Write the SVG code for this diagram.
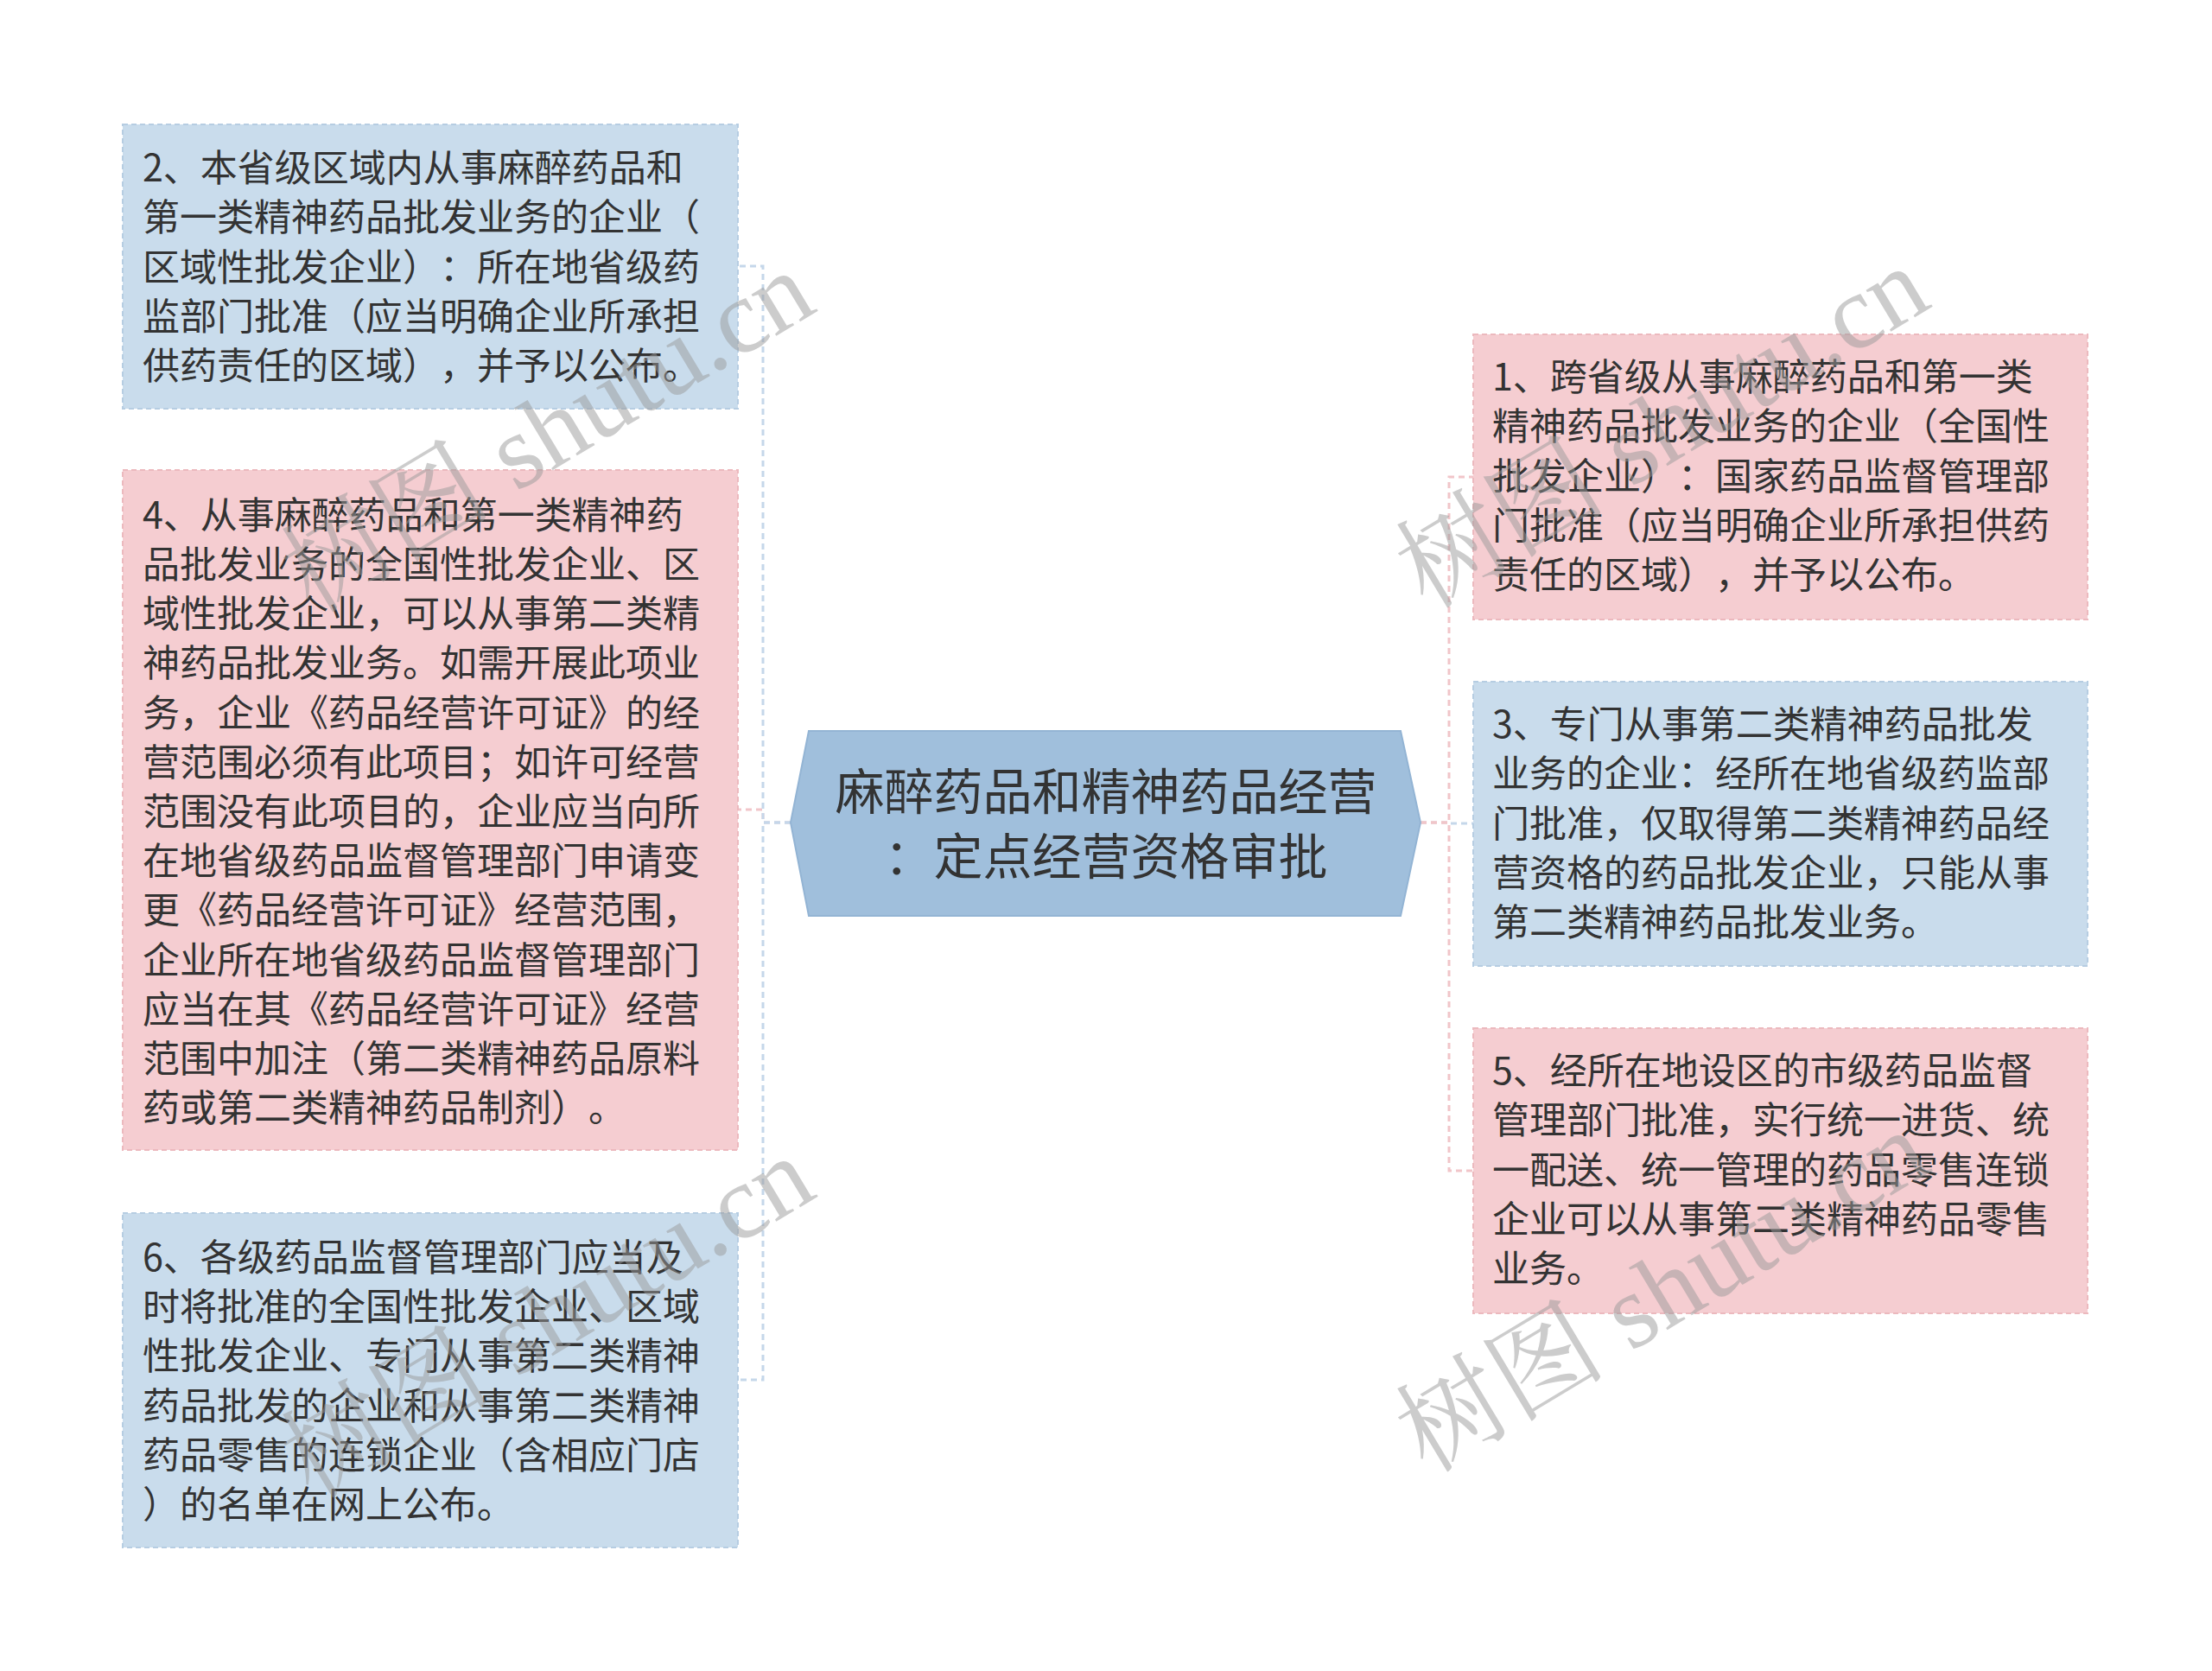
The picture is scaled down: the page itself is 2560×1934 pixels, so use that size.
<svg xmlns="http://www.w3.org/2000/svg" width="2560" height="1934" viewBox="0 0 2560 1934">
<style>
.bg{fill:#ffffff}
.blue{fill:#c9dcec;stroke:#b6cde2;stroke-width:2;stroke-dasharray:6 4}
.pink{fill:#f5cdd1;stroke:#ecb9be;stroke-width:2;stroke-dasharray:6 4}
.center{fill:#a0bfdc;stroke:#93b4d4;stroke-width:2}
text{text-spacing-trim:space-all;font-kerning:none}
.t{font-family:"Noto Sans CJK SC","Noto Sans",sans-serif;font-size:43px;fill:#333333}
.ct{font-family:"Noto Sans CJK SC","Noto Sans",sans-serif;font-size:57px;fill:#333333;text-anchor:middle}
.cb{fill:none;stroke:#c5d7ea;stroke-width:3;stroke-dasharray:7 5}
.cp{fill:none;stroke:#f1c5c9;stroke-width:3;stroke-dasharray:7 5}
.wm{font-family:"Liberation Serif","Noto Serif CJK SC","Noto Sans CJK SC",serif;font-size:122px;fill:#999999;fill-opacity:0.5}
</style>
<rect class="bg" x="0" y="0" width="2560" height="1934"/>
<g id="connectors">
<path class="cp" d="M915,952 H883 V937 H854"/>
<path class="cb" d="M915,952 H883 V308 H854"/>
<path class="cb" d="M915,952 H883 V1597 H854"/>
<path class="cb" d="M1644,952 H1677 V953 H1705"/>
<path class="cp" d="M1644,952 H1677 V552 H1705"/>
<path class="cp" d="M1644,952 H1677 V1355 H1705"/>
</g>
<g id="center">
<polygon class="center" points="936,846 1621,846 1644,952 1621,1060 936,1060 915,952"/>
<text class="ct" x="1280" y="937">麻醉药品和精神药品经营</text>
<text class="ct" x="1280" y="1012">：定点经营资格审批</text>
</g>
<g id="node2">
<rect class="blue" x="142" y="144" width="712" height="329"/>
<text class="t" x="165" y="210">2、本省级区域内从事麻醉药品和</text>
<text class="t" x="165" y="267">第一类精神药品批发业务的企业（</text>
<text class="t" x="165" y="325">区域性批发企业）：所在地省级药</text>
<text class="t" x="165" y="382">监部门批准（应当明确企业所承担</text>
<text class="t" x="165" y="439">供药责任的区域），并予以公布。</text>
</g>
<g id="node4">
<rect class="pink" x="142" y="544" width="712" height="787"/>
<text class="t" x="165" y="612">4、从事麻醉药品和第一类精神药</text>
<text class="t" x="165" y="669">品批发业务的全国性批发企业、区</text>
<text class="t" x="165" y="726">域性批发企业，可以从事第二类精</text>
<text class="t" x="165" y="783">神药品批发业务。如需开展此项业</text>
<text class="t" x="165" y="841">务，企业《药品经营许可证》的经</text>
<text class="t" x="165" y="898">营范围必须有此项目；如许可经营</text>
<text class="t" x="165" y="955">范围没有此项目的，企业应当向所</text>
<text class="t" x="165" y="1012">在地省级药品监督管理部门申请变</text>
<text class="t" x="165" y="1069">更《药品经营许可证》经营范围，</text>
<text class="t" x="165" y="1127">企业所在地省级药品监督管理部门</text>
<text class="t" x="165" y="1184">应当在其《药品经营许可证》经营</text>
<text class="t" x="165" y="1241">范围中加注（第二类精神药品原料</text>
<text class="t" x="165" y="1298">药或第二类精神药品制剂）。</text>
</g>
<g id="node6">
<rect class="blue" x="142" y="1404" width="712" height="387"/>
<text class="t" x="165" y="1471">6、各级药品监督管理部门应当及</text>
<text class="t" x="165" y="1528">时将批准的全国性批发企业、区域</text>
<text class="t" x="165" y="1585">性批发企业、专门从事第二类精神</text>
<text class="t" x="165" y="1643">药品批发的企业和从事第二类精神</text>
<text class="t" x="165" y="1700">药品零售的连锁企业（含相应门店</text>
<text class="t" x="165" y="1757">）的名单在网上公布。</text>
</g>
<g id="node1">
<rect class="pink" x="1705" y="387" width="711" height="330"/>
<text class="t" x="1727" y="452">1、跨省级从事麻醉药品和第一类</text>
<text class="t" x="1727" y="509">精神药品批发业务的企业（全国性</text>
<text class="t" x="1727" y="567">批发企业）：国家药品监督管理部</text>
<text class="t" x="1727" y="624">门批准（应当明确企业所承担供药</text>
<text class="t" x="1727" y="681">责任的区域），并予以公布。</text>
</g>
<g id="node3">
<rect class="blue" x="1705" y="789" width="711" height="329"/>
<text class="t" x="1727" y="854">3、专门从事第二类精神药品批发</text>
<text class="t" x="1727" y="911">业务的企业：经所在地省级药监部</text>
<text class="t" x="1727" y="969">门批准，仅取得第二类精神药品经</text>
<text class="t" x="1727" y="1026">营资格的药品批发企业，只能从事</text>
<text class="t" x="1727" y="1083">第二类精神药品批发业务。</text>
</g>
<g id="node5">
<rect class="pink" x="1705" y="1190" width="711" height="330"/>
<text class="t" x="1727" y="1255">5、经所在地设区的市级药品监督</text>
<text class="t" x="1727" y="1312">管理部门批准，实行统一进货、统</text>
<text class="t" x="1727" y="1370">一配送、统一管理的药品零售连锁</text>
<text class="t" x="1727" y="1427">企业可以从事第二类精神药品零售</text>
<text class="t" x="1727" y="1484">业务。</text>
</g>
<g id="watermarks">
<text class="wm" text-anchor="middle" transform="translate(655,535) rotate(-31)">树图 shutu.cn</text>
<text class="wm" text-anchor="middle" transform="translate(1945,530) rotate(-31)">树图 shutu.cn</text>
<text class="wm" text-anchor="middle" transform="translate(655,1560) rotate(-31)">树图 shutu.cn</text>
<text class="wm" text-anchor="middle" transform="translate(1945,1530) rotate(-31)">树图 shutu.cn</text>
</g>
</svg>
